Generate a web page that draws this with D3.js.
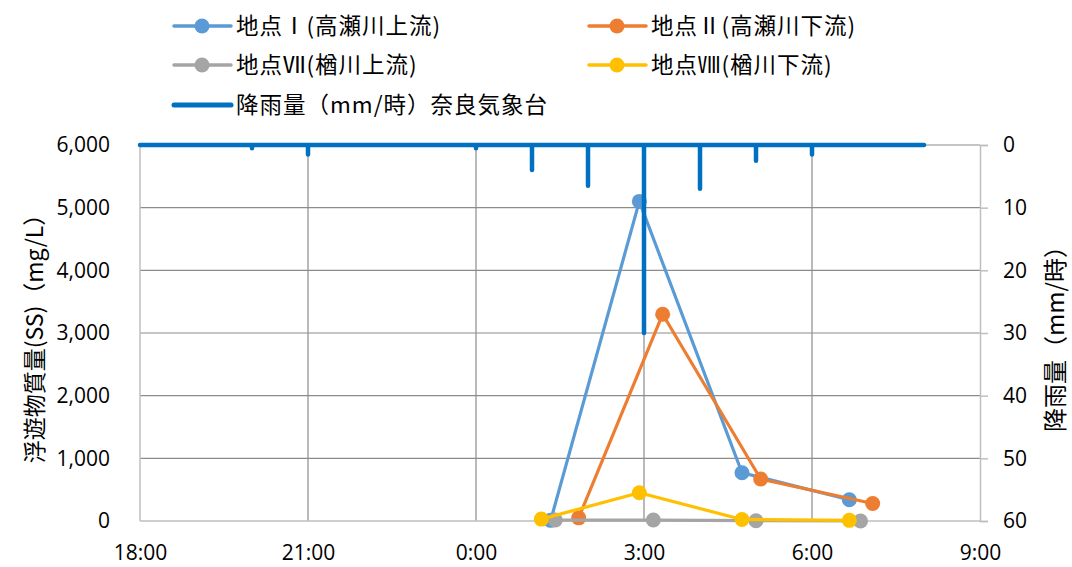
<!DOCTYPE html>
<html>
<head>
<meta charset="utf-8">
<script src="https://cdn.jsdelivr.net/npm/d3@7"></script>
<style>
body{margin:0;background:#fff;}
text{font-family:"Open Sans","Noto Sans CJK JP",sans-serif;fill:#000;}
.jp{font-family:"Noto Sans CJK JP",sans-serif;}
.grid{stroke:#8c8c8c;stroke-width:1.2;}
.axisline{stroke:#bfbfbf;stroke-width:1.5;fill:none;}
</style>
</head>
<body>
<script>
// 浮遊物質量 (mg/L) at each site, times on the night of the rain
var site1Times = ["1:20","2:55","4:45","6:40"];
var site1SS    = [10, 5100, 770, 340];
var site2Times = ["1:50","3:20","5:05","7:05"];
var site2SS    = [50, 3300, 670, 280];
var site7Times = ["1:25","3:10","5:00","6:52"];
var site7SS    = [15, 15, 5, 0];
var site8Times = ["1:10","2:55","4:45","6:40"];
var site8SS    = [30, 450, 25, 10];

// hourly rainfall, 奈良気象台
var rainHours = ["18:00","19:00","20:00","21:00","22:00","23:00","0:00","1:00","2:00","3:00","4:00","5:00","6:00","7:00","8:00"];
var rainMm    = [0, 0, 0.5, 1.5, 0, 0, 0.5, 4, 6.5, 30, 7, 2.5, 1.5, 0, 0];

var ssTicks   = [0,1000,2000,3000,4000,5000,6000];
var rainTicks = [0,10,20,30,40,50,60];

var seriesNames = ["地点Ⅰ(高瀬川上流)","地点Ⅱ(高瀬川下流)","地点Ⅶ(楢川上流)","地点Ⅷ(楢川下流)"];
var seriesColors = ["#5b9bd5","#ed7d31","#a5a5a5","#ffc000"];
var rainName = "降雨量（mm/時）奈良気象台";
var rainColor = "#0070c0";

function toDate(s){
  var p = s.split(":"), h = +p[0], m = +p[1];
  return new Date(2020, 0, h >= 12 ? 1 : 2, h, m);
}

var series = [
  {times:site1Times, vals:site1SS},
  {times:site2Times, vals:site2SS},
  {times:site7Times, vals:site7SS},
  {times:site8Times, vals:site8SS}
].map(function(s,i){
  return {name:seriesNames[i], color:seriesColors[i],
    pts:s.times.map(function(t,j){ return {t:toDate(t), v:s.vals[j]}; })};
});

var W = 1072, H = 567;
var L = 140, R = 980, T = 145, B = 521;

var svg = d3.select("body").append("svg").attr("width",W).attr("height",H);
svg.append("rect").attr("width",W).attr("height",H).attr("fill","#fff");

var x = d3.scaleTime().domain([toDate("18:00"), toDate("9:00")]).range([L,R]);
var y = d3.scaleLinear().domain([0,6000]).range([B,T]);
var yR = d3.scaleLinear().domain([0,60]).range([T,B]);

// grid
svg.append("g").selectAll("line").data(ssTicks.slice(1)).join("line")
  .attr("class","grid").attr("x1",L).attr("x2",R).attr("y1",d=>y(d)).attr("y2",d=>y(d));
var xTicks = x.ticks(d3.timeHour.every(3));
svg.append("g").selectAll("line").data(xTicks.slice(1,-1)).join("line")
  .attr("class","grid").attr("x1",d=>x(d)).attr("x2",d=>x(d)).attr("y1",T).attr("y2",B);

// axes lines
svg.append("line").attr("class","axisline").attr("x1",L).attr("x2",L).attr("y1",T).attr("y2",B);
svg.append("line").attr("class","axisline").attr("x1",L).attr("x2",R).attr("y1",B).attr("y2",B);

var gl = svg.append("g").attr("transform","translate("+L+",0)")
  .call(d3.axisLeft(y).tickValues(ssTicks).tickFormat(d3.format(",")).tickSize(0).tickPadding(30));
var gr = svg.append("g").attr("transform","translate("+R+",0)")
  .call(d3.axisRight(yR).tickValues(rainTicks).tickSize(8).tickPadding(15));
var gb = svg.append("g").attr("transform","translate(0,"+B+")")
  .call(d3.axisBottom(x).tickValues(xTicks).tickFormat(d3.timeFormat("%-H:%M")).tickSize(0).tickPadding(24));
[gl,gr,gb].forEach(function(g){
  g.selectAll("text").style("font-family",'"Open Sans",sans-serif').style("font-size","21px").attr("fill","#000");
});
gl.select(".domain").remove();
gb.select(".domain").remove();
gr.select(".domain").attr("stroke","#bfbfbf").attr("stroke-width",1.5);
gr.selectAll(".tick line").attr("stroke","#bfbfbf").attr("stroke-width",1.5);

// axis titles
svg.append("text").attr("class","jp")
  .attr("transform","translate(35,"+((T+B)/2)+") rotate(-90)")
  .attr("text-anchor","middle").attr("dy","0.35em").style("font-size","23px")
  .text("浮遊物質量(SS)（mg/L）");
svg.append("text").attr("class","jp")
  .attr("transform","translate(1056,"+((T+B)/2)+") rotate(-90)")
  .attr("text-anchor","middle").attr("dy","0.35em").style("font-size","24px")
  .text("降雨量（mm/時）");

// series
var line = d3.line().x(d=>x(d.t)).y(d=>y(d.v));
series.forEach(function(s){
  var g = svg.append("g");
  g.append("path").datum(s.pts).attr("d",line)
    .attr("fill","none").attr("stroke",s.color).attr("stroke-width",3.2).attr("stroke-linejoin","round");
  g.selectAll("circle").data(s.pts).join("circle")
    .attr("cx",d=>x(d.t)).attr("cy",d=>y(d.v)).attr("r",7.5).attr("fill",s.color);
});

// rainfall: hourly spikes hanging from the top
var rainPts = [];
rainHours.forEach(function(h,i){
  var t = toDate(h);
  rainPts.push([t,0],[t,rainMm[i]],[t,0]);
});
svg.append("path").datum(rainPts)
  .attr("d", d3.line().x(d=>x(d[0])).y(d=>yR(d[1])))
  .attr("fill","none").attr("stroke",rainColor).attr("stroke-width",4.5)
  .attr("stroke-linejoin","round").attr("stroke-linecap","round");

// legend
var legendItems = [
  {name:seriesNames[0], color:seriesColors[0], mark:true, x:174, y:26},
  {name:seriesNames[1], color:seriesColors[1], mark:true, x:589, y:26},
  {name:seriesNames[2], color:seriesColors[2], mark:true, x:174, y:65},
  {name:seriesNames[3], color:seriesColors[3], mark:true, x:589, y:65},
  {name:rainName, color:rainColor, mark:false, x:174, y:105}
];
var lg = svg.append("g").selectAll("g").data(legendItems).join("g")
  .attr("transform",d=>"translate("+d.x+","+d.y+")");
lg.append("line").attr("x1",0).attr("x2",57).attr("stroke",d=>d.color)
  .attr("stroke-width",d=>d.mark?3.5:5).attr("stroke-linecap","round");
lg.filter(d=>d.mark).append("circle").attr("cx",28).attr("r",7.5).attr("fill",d=>d.color);
lg.append("text").attr("class","jp").attr("x",62).attr("dy","0.36em")
  .style("font-size","22.5px").style("letter-spacing","1px").text(d=>d.name);
</script>
</body>
</html>
